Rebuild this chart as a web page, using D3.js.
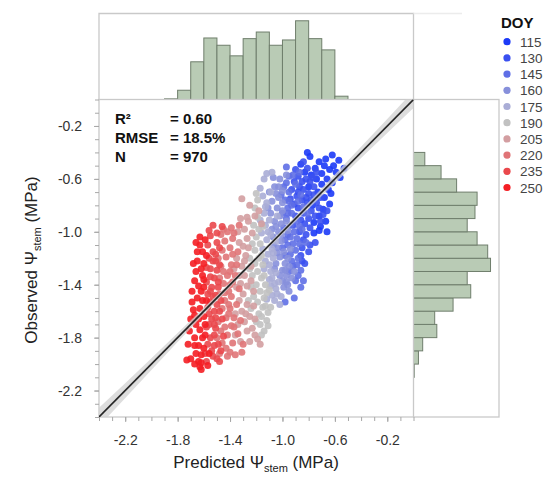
<!DOCTYPE html>
<html>
<head>
<meta charset="utf-8">
<script src="https://cdn.jsdelivr.net/npm/d3@7"></script>
<style>
  body { margin: 0; background: #fff; }
  svg { display: block; font-family: "Liberation Sans", Arial, sans-serif; }
</style>
</head>
<body>
<script>
var w = 550,
    h = 481;

// DOY classes shown in the legend and their colours
var doyLevels = [115, 130, 145, 160, 175, 190, 205, 220, 235, 250];
var doyColors = ["#1c3af7", "#3a50f0", "#5f6fe6", "#8790db", "#aaadd6",
                 "#c1c1c1", "#d39ea1", "#e07477", "#ea484c", "#f41e24"];

// scatter points [predicted, observed] per DOY class
var doy115 = [[-0.81,-0.40],[-0.79,-0.43],[-0.67,-0.45],[-0.62,-0.42],[-0.57,-0.46],[-0.61,-0.50],[-0.53,-0.52],[-0.56,-0.59],
  [-0.59,-0.55],[-0.64,-0.53],[-0.68,-0.50],[-0.72,-0.47],[-0.75,-0.52],[-0.70,-0.56],[-0.66,-0.60],[-0.62,-0.63],[-0.65,-0.68],
  [-0.70,-0.64],[-0.74,-0.60],[-0.78,-0.57],[-0.73,-0.70],[-0.68,-0.74],[-0.64,-0.79],[-0.69,-0.83],[-0.72,-0.88],[-0.67,-0.92],
  [-0.71,-0.96],[-0.66,-1.00],[-0.72,-0.99],[-0.76,-0.93],[-0.77,-0.80],[-0.80,-0.66],[-0.83,-0.55],[-0.86,-0.49],[-0.76,-1.01],
  [-0.63,-0.71]];
var doy130 = [[-0.84,-0.47],[-0.90,-0.53],[-0.88,-0.58],[-0.85,-0.62],[-0.82,-0.60],[-0.79,-0.62],[-0.76,-0.66],[-0.80,-0.71],
  [-0.84,-0.68],[-0.87,-0.66],[-0.91,-0.62],[-0.93,-0.68],[-0.89,-0.73],[-0.85,-0.76],[-0.81,-0.78],[-0.78,-0.84],[-0.74,-0.78],
  [-0.71,-0.74],[-0.75,-0.88],[-0.80,-0.90],[-0.84,-0.86],[-0.88,-0.82],[-0.91,-0.79],[-0.83,-0.94],[-0.79,-0.97],[-0.75,-1.08],
  [-0.79,-1.10],[-0.84,-1.06],[-0.80,-1.15],[-0.86,-1.18],[-0.87,-1.00],[-0.82,-1.02],[-0.76,-0.72],[-0.72,-0.82],[-0.86,-0.91],
  [-0.90,-0.88],[-0.94,-0.75],[-0.77,-0.59],[-0.81,-0.52],[-0.74,-0.55],[-0.69,-0.87],[-0.71,-0.92],[-0.66,-0.84],[-0.82,-0.74],
  [-0.78,-0.76],[-0.88,-0.70],[-0.92,-0.95],[-0.85,-1.12],[-0.83,-1.24],[-0.85,-1.22]];
var doy145 = [[-0.95,-0.58],[-0.97,-0.63],[-0.95,-0.70],[-0.98,-0.76],[-0.96,-0.82],[-0.93,-0.86],[-0.97,-0.90],[-1.00,-0.86],
  [-0.94,-0.95],[-0.91,-1.00],[-0.96,-1.02],[-0.99,-0.97],[-0.89,-1.05],[-0.92,-1.09],[-0.96,-1.10],[-0.90,-1.14],[-0.94,-1.17],
  [-0.88,-1.20],[-0.86,-1.29],[-0.88,-1.33],[-0.84,-1.37],[-0.86,-1.42],[-0.91,-1.50],[-0.98,-1.53],[-0.92,-1.26],[-0.95,-1.30],
  [-0.90,-1.37],[-0.93,-1.22],[-0.98,-1.18],[-1.00,-1.12],[-0.87,-0.96],[-0.89,-0.92],[-0.93,-0.80],[-0.90,-0.64],[-0.92,-0.57],
  [-0.87,-0.55],[-0.97,-0.51],[-0.99,-0.66],[-1.01,-0.72],[-0.95,-0.77],[-0.85,-0.98],[-0.82,-1.08],[-0.89,-1.25],[-0.87,-1.09],
  [-0.94,-1.04],[-0.98,-1.06],[-0.96,-0.86],[-0.84,-0.81],[-0.86,-0.72],[-0.81,-0.86],[-0.88,-0.77]];
var doy160 = [[-0.97,-0.57],[-1.02,-0.60],[-1.07,-0.59],[-1.03,-0.66],[-1.05,-0.71],[-1.00,-0.78],[-1.04,-0.82],[-1.02,-0.88],
  [-1.06,-0.92],[-1.01,-0.94],[-1.03,-1.00],[-1.07,-1.04],[-1.01,-1.07],[-1.04,-1.12],[-0.99,-1.15],[-1.02,-1.19],[-1.05,-1.24],
  [-0.98,-1.24],[-1.00,-1.29],[-0.97,-1.33],[-0.98,-1.29],[-0.97,-1.38],[-1.00,-1.37],[-0.99,-1.42],[-0.95,-1.45],[-1.02,-1.33],
  [-0.96,-1.20],[-0.94,-1.13],[-1.08,-0.98],[-1.09,-0.86],[-1.08,-0.77],[-1.06,-0.66],[-1.10,-0.70],[-1.00,-0.69],[-1.01,-1.02],
  [-0.96,-0.99],[-1.04,-1.16],[-1.07,-1.10],[-1.05,-0.96],[-1.03,-0.74],[-0.93,-1.35],[-0.96,-1.40],[-0.91,-1.30],[-1.00,-0.84],
  [-1.11,-0.82],[-0.95,-1.26],[-1.06,-1.28],[-0.97,-0.92]];
var doy175 = [[-1.14,-0.60],[-1.17,-0.67],[-1.09,-0.70],[-1.12,-0.56],[-1.08,-0.55],[-1.15,-0.73],[-1.12,-0.78],[-1.14,-0.86],
  [-1.10,-0.91],[-1.13,-0.95],[-1.09,-1.02],[-1.12,-1.06],[-1.08,-1.13],[-1.11,-1.17],[-1.07,-1.20],[-1.10,-1.25],[-1.05,-1.31],
  [-1.08,-1.35],[-1.05,-1.43],[-1.08,-1.48],[-1.12,-1.51],[-1.03,-1.38],[-1.06,-1.39],[-1.09,-1.30],[-1.13,-1.22],[-1.15,-1.13],
  [-1.16,-1.01],[-1.04,-1.47],[-1.02,-1.55],[-1.09,-1.41],[-1.07,-1.16],[-1.11,-1.00],[-1.05,-1.07],[-1.17,-0.91],[-1.14,-1.28],
  [-1.10,-1.36],[-1.01,-1.49],[-1.06,-1.52],[-1.13,-0.81],[-1.04,-0.88]];
var doy190 = [[-1.11,-1.61],[-1.12,-1.67],[-1.11,-1.71],[-1.14,-1.75],[-1.16,-1.78],[-1.15,-1.57],[-1.18,-1.62],[-1.14,-1.50],
  [-1.17,-1.45],[-1.13,-1.40],[-1.16,-1.35],[-1.19,-1.30],[-1.15,-1.25],[-1.18,-1.20],[-1.21,-1.14],[-1.17,-1.09],[-1.20,-1.04],
  [-1.18,-0.98],[-1.22,-0.95],[-1.19,-0.89],[-1.21,-1.24],[-1.23,-1.33],[-1.20,-1.40],[-1.22,-1.49],[-1.19,-1.53],[-1.24,-1.58],
  [-1.20,-1.68],[-1.16,-1.64],[-1.13,-1.56],[-1.12,-1.46],[-1.25,-1.20],[-1.23,-1.09],[-1.16,-1.18],[-1.19,-0.76],[-1.21,-0.82],
  [-1.14,-1.33],[-1.24,-1.42],[-1.26,-1.52],[-1.09,-1.57],[-1.17,-1.70],[-1.10,-1.44],[-1.15,-0.96],[-1.20,-0.71],[-1.25,-1.28]];
var doy205 = [[-1.25,-1.64],[-1.21,-1.66],[-1.19,-1.81],[-1.25,-1.83],[-1.32,-1.83],[-1.17,-1.85],[-1.27,-1.75],[-1.29,-1.68],
  [-1.23,-1.73],[-1.31,-1.60],[-1.27,-1.55],[-1.30,-1.47],[-1.27,-1.41],[-1.29,-1.33],[-1.31,-1.26],[-1.28,-1.18],[-1.30,-1.11],
  [-1.27,-1.05],[-1.29,-0.98],[-1.26,-0.92],[-1.27,-0.89],[-1.21,-0.88],[-1.18,-0.84],[-1.16,-0.94],[-1.25,-0.80],[-1.31,-0.75],
  [-1.32,-0.90],[-1.34,-1.00],[-1.33,-1.08],[-1.35,-1.20],[-1.33,-1.33],[-1.35,-1.42],[-1.33,-1.52],[-1.36,-1.62],[-1.34,-1.70],
  [-1.24,-1.37],[-1.26,-1.12],[-1.23,-1.01],[-1.22,-1.45],[-1.28,-1.62],[-1.36,-1.78],[-1.22,-1.56],[-1.32,-1.39],[-1.24,-1.26],
  [-1.29,-1.22],[-1.37,-1.28],[-1.21,-1.78]];
var doy220 = [[-1.31,-1.91],[-1.40,-1.91],[-1.38,-1.84],[-1.42,-1.78],[-1.39,-1.71],[-1.43,-1.65],[-1.40,-1.58],[-1.44,-1.52],
  [-1.41,-1.45],[-1.38,-1.38],[-1.42,-1.33],[-1.39,-1.25],[-1.43,-1.19],[-1.40,-1.12],[-1.38,-1.05],[-1.37,-1.01],[-1.42,-1.00],
  [-1.44,-1.07],[-1.46,-1.14],[-1.47,-1.26],[-1.45,-1.39],[-1.48,-1.47],[-1.46,-1.58],[-1.49,-1.68],[-1.47,-1.75],[-1.46,-1.84],
  [-1.34,-1.77],[-1.30,-1.85],[-1.37,-1.65],[-1.35,-1.55],[-1.39,-1.49],[-1.36,-1.33],[-1.34,-1.15],[-1.41,-1.62],[-1.44,-1.72],
  [-1.50,-1.80],[-1.38,-1.17],[-1.45,-1.30],[-1.40,-1.40],[-1.33,-1.43],[-1.36,-1.93],[-1.43,-1.88],[-1.48,-1.35],[-1.49,-1.20],
  [-1.47,-1.02],[-1.41,-1.55],[-1.37,-1.72],[-1.32,-1.67],[-1.44,-1.46],[-1.42,-1.94],[-1.48,-1.92],[-1.35,-1.25],[-1.39,-0.97],
  [-1.45,-0.98],[-1.33,-0.95],[-1.40,-1.30]];
var doy235 = [[-1.47,-1.90],[-1.53,-1.94],[-1.48,-1.98],[-1.52,-1.86],[-1.55,-1.80],[-1.51,-1.73],[-1.54,-1.66],[-1.52,-1.60],
  [-1.55,-1.53],[-1.51,-1.48],[-1.54,-1.42],[-1.52,-1.35],[-1.55,-1.28],[-1.51,-1.22],[-1.53,-1.15],[-1.50,-1.08],[-1.53,-0.95],
  [-1.46,-0.96],[-1.50,-1.01],[-1.55,-1.03],[-1.48,-1.60],[-1.50,-1.55],[-1.57,-1.47],[-1.58,-1.38],[-1.56,-1.20],[-1.57,-1.10],
  [-1.59,-1.92],[-1.57,-1.85],[-1.58,-1.72],[-1.56,-1.62],[-1.49,-1.42],[-1.47,-1.52],[-1.46,-1.66],[-1.50,-1.29],[-1.48,-1.12],
  [-1.52,-1.78],[-1.57,-1.57],[-1.54,-1.90],[-1.45,-1.79],[-1.49,-1.85],[-1.51,-1.65],[-1.55,-1.34],[-1.53,-1.22],[-1.49,-1.38],
  [-1.56,-1.70],[-1.58,-1.27],[-1.53,-1.49],[-1.50,-1.96],[-1.56,-0.99],[-1.51,-1.17],[-1.48,-1.25],[-1.55,-1.45],[-1.52,-1.70],
  [-1.58,-1.98]];
var doy250 = [[-1.73,-1.97],[-1.70,-1.96],[-1.64,-1.98],[-1.63,-2.02],[-1.62,-2.04],[-1.67,-1.86],[-1.67,-1.80],[-1.68,-1.59],
  [-1.67,-1.63],[-1.67,-1.37],[-1.61,-1.52],[-1.59,-1.06],[-1.63,-1.10],[-1.61,-1.15],[-1.58,-1.18],[-1.63,-1.04],[-1.65,-1.22],
  [-1.62,-1.28],[-1.66,-1.30],[-1.64,-1.41],[-1.60,-1.36],[-1.62,-1.45],[-1.65,-1.50],[-1.69,-1.53],[-1.70,-1.66],[-1.66,-1.70],
  [-1.63,-1.74],[-1.60,-1.64],[-1.61,-1.80],[-1.64,-1.86],[-1.60,-1.88],[-1.62,-1.93],[-1.66,-1.92],[-1.71,-1.75],[-1.69,-1.45],
  [-1.68,-1.24],[-1.65,-1.15],[-1.60,-1.24],[-1.63,-1.58],[-1.59,-1.70],[-1.61,-1.33],[-1.64,-1.66],[-1.67,-2.00],[-1.58,-1.52],
  [-1.60,-1.42],[-1.72,-1.85],[-1.66,-1.08],[-1.62,-1.99],[-1.59,-1.78],[-1.56,-1.92],[-1.57,-2.01]];
var doyPoints = [doy115, doy130, doy145, doy160, doy175, doy190, doy205, doy220, doy235, doy250];

// marginal histograms (counts, bin width 0.1 MPa)
var topBinEdges = [-1.9,-1.8,-1.7,-1.6,-1.5,-1.4,-1.3,-1.2,-1.1,-1.0,-0.9,-0.8,-0.7,-0.6,-0.5];
var topCounts = [1, 14, 57, 93, 82, 66, 92, 102, 82, 90, 119, 92, 75, 5];
var rightBinEdges = [-2.1,-2.0,-1.9,-1.8,-1.7,-1.6,-1.5,-1.4,-1.3,-1.2,-1.1,-1.0,-0.9,-0.8,-0.7,-0.6,-0.5,-0.4];
var rightCounts = [1, 7, 13, 33, 30, 56, 81, 76, 109, 105, 90, 76, 87, 90, 61, 39, 16];

// fitted line and its confidence band half-width
var fitLine = [[-2.4, -2.4], [0, 0]];
var bandX = [-2.4, -2.0, -1.6, -1.2, -0.8, -0.4, 0];
var bandHalf = [0.07, 0.045, 0.026, 0.016, 0.025, 0.043, 0.065];

var xMajor = [-2.2, -1.8, -1.4, -1.0, -0.6, -0.2];
var yMajor = [-2.2, -1.8, -1.4, -1.0, -0.6, -0.2];

var statNames = ["R\u00b2", "RMSE", "N"];
var statValues = ["= 0.60", "= 18.5%", "= 970"];

var x = d3.scaleLinear().domain([-2.4, 0]).range([99, 413.5]);
var y = d3.scaleLinear().domain([-2.4, 0]).range([417, 99.5]);
var topY = d3.scaleLinear().domain([0, 130]).range([99.5, 13.5]);
var rightX = d3.scaleLinear().domain([0, 121]).range([413.5, 499]);
var fit = d3.scaleLinear().domain([fitLine[0][0], fitLine[1][0]]).range([fitLine[0][1], fitLine[1][1]]);

var svg = d3.select("body").append("svg").attr("width", w).attr("height", h);

var frameColor = "#c9c9c9";

// top histogram
svg.selectAll("rect.top")
  .data(topCounts)
  .enter()
  .append("rect")
  .attr("class", "top")
  .attr("x", function(d, i) { return x(topBinEdges[i]); })
  .attr("width", function(d, i) { return x(topBinEdges[i + 1]) - x(topBinEdges[i]); })
  .attr("y", function(d) { return topY(d); })
  .attr("height", function(d) { return topY(0) - topY(d); })
  .attr("fill", "#b9cbb5")
  .attr("stroke", "#6f7e6c")
  .attr("stroke-width", 1);

// right histogram
svg.selectAll("rect.right")
  .data(rightCounts)
  .enter()
  .append("rect")
  .attr("class", "right")
  .attr("x", rightX(0))
  .attr("width", function(d) { return rightX(d) - rightX(0); })
  .attr("y", function(d, i) { return y(rightBinEdges[i + 1]); })
  .attr("height", function(d, i) { return y(rightBinEdges[i]) - y(rightBinEdges[i + 1]); })
  .attr("fill", "#b9cbb5")
  .attr("stroke", "#6f7e6c")
  .attr("stroke-width", 1);

// frames
var frames = svg.append("g").attr("fill", "none").attr("stroke", frameColor).attr("stroke-width", 1.3);
frames.append("path").attr("d", "M" + x(-2.4) + "," + topY(0) + "V" + topY(130) + "H" + x(0) + "V" + topY(0));
frames.append("line").attr("x1", x(0)).attr("x2", 462).attr("y1", topY(130)).attr("y2", topY(130))
  .attr("stroke", "#ececec");
frames.append("rect").attr("x", x(-2.4)).attr("y", y(0))
  .attr("width", rightX(121) - x(-2.4)).attr("height", y(-2.4) - y(0));
frames.append("line").attr("x1", x(0)).attr("x2", x(0)).attr("y1", y(0)).attr("y2", y(-2.4));

// scatter
svg.append("clipPath").attr("id", "plot")
  .append("rect").attr("x", x(-2.4)).attr("y", y(0))
  .attr("width", x(0) - x(-2.4)).attr("height", y(-2.4) - y(0));

var pts = svg.append("g").attr("clip-path", "url(#plot)");
doyPoints.forEach(function(group, gi) {
  pts.selectAll("circle.g" + gi)
    .data(group)
    .enter()
    .append("circle")
    .attr("class", "g" + gi)
    .attr("cx", function(d) { return x(d[0]); })
    .attr("cy", function(d) { return y(d[1]); })
    .attr("r", 3.5)
    .attr("fill", doyColors[gi])
    .attr("fill-opacity", 0.9);
});

// confidence band + fitted line
var band = d3.area()
  .x(function(d) { return x(d); })
  .y0(function(d, i) { return y(fit(d) - bandHalf[i]); })
  .y1(function(d, i) { return y(fit(d) + bandHalf[i]); })
  .curve(d3.curveMonotoneX);

pts.append("path")
  .attr("d", band(bandX))
  .attr("fill", "#d2d2d2")
  .attr("fill-opacity", 0.75);

pts.append("path")
  .attr("d", d3.line().x(function(d) { return x(d[0]); }).y(function(d) { return y(d[1]); })(fitLine))
  .attr("stroke", "#262626")
  .attr("stroke-width", 1.6)
  .attr("fill", "none");

// axes
var minor = d3.range(-24, 1).map(function(d) { return d / 10; });
function styleAxis(g) {
  g.select(".domain").remove();
  g.selectAll(".tick line").attr("stroke", "#a8a8a8");
  g.selectAll(".tick text").attr("fill", "#333").attr("font-size", 14)
    .attr("font-family", "Liberation Sans, Arial, sans-serif");
}

svg.append("g").attr("transform", "translate(0," + y(-2.4) + ")")
  .call(d3.axisBottom(x).tickValues(minor).tickSize(4).tickFormat(""))
  .call(styleAxis);
svg.append("g").attr("transform", "translate(0," + y(-2.4) + ")")
  .call(d3.axisBottom(x).tickValues(xMajor).tickSize(5).tickPadding(13)
    .tickFormat(function(d) { return d.toFixed(1); }))
  .call(styleAxis);

svg.append("g").attr("transform", "translate(" + x(-2.4) + ",0)")
  .call(d3.axisLeft(y).tickValues(minor).tickSize(4).tickFormat(""))
  .call(styleAxis);
svg.append("g").attr("transform", "translate(" + x(-2.4) + ",0)")
  .call(d3.axisLeft(y).tickValues(yMajor).tickSize(5).tickPadding(12)
    .tickFormat(function(d) { return d.toFixed(1); }))
  .call(styleAxis);

// axis titles
var xt = svg.append("text")
  .attr("x", 256).attr("y", 468)
  .attr("text-anchor", "middle")
  .attr("font-size", 17)
  .attr("fill", "#222");
xt.append("tspan").text("Predicted \u03a8");
xt.append("tspan").attr("font-size", 11).attr("dy", 4).text("stem");
xt.append("tspan").attr("dy", -4).text(" (MPa)");

var yt = svg.append("text")
  .attr("transform", "translate(37,260) rotate(-90)")
  .attr("text-anchor", "middle")
  .attr("font-size", 17)
  .attr("fill", "#222");
yt.append("tspan").text("Observed \u03a8");
yt.append("tspan").attr("font-size", 11).attr("dy", 4).text("stem");
yt.append("tspan").attr("dy", -4).text(" (MPa)");

// stats
svg.selectAll("text.stat")
  .data(statNames)
  .enter()
  .append("text")
  .attr("class", "stat")
  .attr("x", 115)
  .attr("y", function(d, i) { return 123.5 + i * 19; })
  .attr("font-size", 15)
  .attr("font-weight", "bold")
  .attr("fill", "#111")
  .text(function(d) { return d; });
svg.selectAll("text.statv")
  .data(statValues)
  .enter()
  .append("text")
  .attr("class", "statv")
  .attr("x", 170)
  .attr("y", function(d, i) { return 123.5 + i * 19; })
  .attr("font-size", 15)
  .attr("font-weight", "bold")
  .attr("fill", "#111")
  .text(function(d) { return d; });

// legend
svg.append("text")
  .attr("x", 501).attr("y", 28)
  .attr("font-size", 15)
  .attr("font-weight", "bold")
  .attr("fill", "#111")
  .text("DOY");
var leg = svg.selectAll("g.leg")
  .data(doyLevels)
  .enter()
  .append("g")
  .attr("class", "leg")
  .attr("transform", function(d, i) { return "translate(507," + (41.7 + i * 16.2) + ")"; });
leg.append("circle")
  .attr("r", 3.6)
  .attr("fill", function(d, i) { return doyColors[i]; });
leg.append("text")
  .attr("x", 13)
  .attr("y", 5)
  .attr("font-size", 13.5)
  .attr("fill", "#444")
  .text(function(d) { return d; });
</script>
</body>
</html>
